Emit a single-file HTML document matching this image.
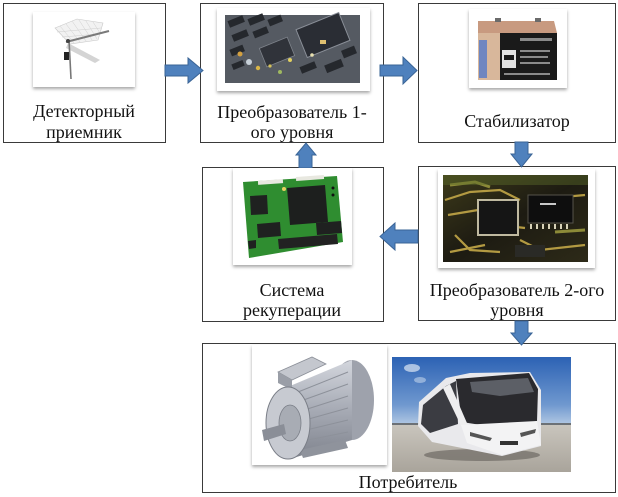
<!DOCTYPE html>
<html><head><meta charset="utf-8">
<style>
html,body{margin:0;padding:0;background:#fff;}
svg{display:block;}
text{font-family:"Liberation Serif","Noto Serif CJK SC",serif;font-size:18px;fill:#111;}
</style></head>
<body>
<svg width="618" height="497" viewBox="0 0 618 497" xmlns="http://www.w3.org/2000/svg">
<defs>
<filter id="sh" x="-10%" y="-10%" width="120%" height="130%"><feDropShadow dx="0" dy="2" stdDeviation="1.6" flood-color="#000" flood-opacity="0.35"/></filter>
<linearGradient id="sky" x1="0" y1="0" x2="0" y2="1"><stop offset="0" stop-color="#2c62b4"/><stop offset="0.7" stop-color="#6f98cf"/><stop offset="1" stop-color="#b3c9e3"/></linearGradient>
<linearGradient id="gnd" x1="0" y1="0" x2="0" y2="1"><stop offset="0" stop-color="#c9c5bd"/><stop offset="1" stop-color="#a9a49b"/></linearGradient>
<linearGradient id="mot" x1="0" y1="0" x2="0" y2="1"><stop offset="0" stop-color="#d3d6dd"/><stop offset="0.5" stop-color="#a7abb5"/><stop offset="1" stop-color="#7f838d"/></linearGradient>
<linearGradient id="pcb2" x1="0" y1="0" x2="1" y2="1"><stop offset="0" stop-color="#3d3a1a"/><stop offset="0.5" stop-color="#1d1b12"/><stop offset="1" stop-color="#2d2a18"/></linearGradient>
</defs>

<!-- boxes -->
<rect x="3.5" y="3.5" width="162" height="139" fill="#fff" stroke="#3a3a3a"/>
<rect x="200.5" y="3.5" width="183" height="139" fill="#fff" stroke="#3a3a3a"/>
<rect x="418.5" y="3.5" width="197" height="139" fill="#fff" stroke="#3a3a3a"/>
<rect x="202.5" y="167.5" width="181" height="154" fill="#fff" stroke="#3a3a3a"/>
<rect x="418.5" y="166.5" width="197" height="154" fill="#fff" stroke="#3a3a3a"/>
<rect x="202.5" y="343.5" width="413" height="149" fill="#fff" stroke="#3a3a3a"/>

<!-- arrows -->
<g fill="#4f81bd" stroke="#3a6496" stroke-width="1">
<polygon points="165,65 188,65 188,58 203,70.5 188,83 188,76 165,76"/>
<polygon points="380,65 403,65 403,57 417,70.5 403,84 403,76 380,76"/>
<polygon points="515,142 528,142 528,154 532,154 521.5,167 511,154 515,154"/>
<polygon points="515,321 528,321 528,333 532,333 521.5,345 511,333 515,333"/>
<polygon points="418,230 395,230 395,223 380,236.5 395,250 395,243 418,243"/>
<polygon points="299,168 299,155 296,155 306,143 316,155 312,155 312,168"/>
</g>

<!-- Image 1: antenna -->
<rect x="33" y="12" width="102" height="75" fill="#fff" filter="url(#sh)"/>
<g>
<polygon points="55,28 77,19 103,23 98,40 70,44" fill="#f2f2f2" stroke="#c8c8c8" stroke-width="0.6"/>
<g stroke="#cfcfcf" stroke-width="0.5">
<line x1="60" y1="26" x2="74" y2="43"/><line x1="66" y1="24" x2="80" y2="42"/><line x1="72" y1="21" x2="86" y2="41"/>
<line x1="79" y1="20" x2="92" y2="40"/><line x1="86" y1="21" x2="97" y2="39"/><line x1="93" y1="22" x2="100" y2="33"/>
<line x1="57" y1="32" x2="101" y2="28"/><line x1="62" y1="37" x2="99" y2="34"/>
</g>
<polygon points="68,43 100,60 95,63 66,48" fill="#d4d4d4"/>
<line x1="66" y1="42" x2="109" y2="31" stroke="#7a7a7a" stroke-width="2"/>
<line x1="69" y1="40" x2="71" y2="79" stroke="#777" stroke-width="1.6"/>
<rect x="64" y="52" width="5" height="8" fill="#222"/>
<circle cx="68" cy="41" r="2" fill="#444"/>
</g>

<!-- Image 2: circuit board -->
<rect x="217" y="8" width="153" height="83" fill="#fff" filter="url(#sh)"/>
<rect x="225" y="15" width="135" height="68" fill="#4f545c"/>
<g>
<rect x="225" y="15" width="135" height="68" fill="#5b6068" opacity="0.5"/>
<g fill="#25282d">
<rect x="228" y="18" width="16" height="7" transform="rotate(-22 236 21)"/>
<rect x="248" y="16" width="16" height="7" transform="rotate(-22 256 19)"/>
<rect x="268" y="17" width="14" height="7" transform="rotate(-22 275 20)"/>
<rect x="232" y="32" width="16" height="7" transform="rotate(-22 240 35)"/>
<rect x="253" y="29" width="15" height="7" transform="rotate(-22 260 32)"/>
<rect x="230" y="47" width="14" height="7" transform="rotate(-22 237 50)"/>
<rect x="232" y="62" width="12" height="6" transform="rotate(-22 238 65)"/>
<rect x="300" y="64" width="16" height="7" transform="rotate(-22 308 67)"/>
<rect x="325" y="62" width="18" height="8" transform="rotate(-22 334 66)"/>
<rect x="342" y="48" width="14" height="8" transform="rotate(-22 349 52)"/>
</g>
<rect x="300" y="20" width="46" height="30" fill="#2a2d34" stroke="#8a8f98" stroke-width="1" transform="rotate(-22 323 35)"/>
<rect x="262" y="42" width="30" height="20" fill="#30333a" stroke="#7e838b" stroke-width="0.8" transform="rotate(-22 277 52)"/>
<circle cx="249" cy="62" r="3" fill="#c7d0d8"/>
<circle cx="258" cy="68" r="2.2" fill="#d8b548"/>
<circle cx="240" cy="54" r="2.5" fill="#d3a040"/>
<circle cx="290" cy="60" r="2" fill="#e2d060"/>
<circle cx="280" cy="72" r="2" fill="#9fb860"/>
<circle cx="312" cy="55" r="1.8" fill="#e8e0b0"/>
<circle cx="270" cy="66" r="1.6" fill="#d6c25a"/>
<rect x="320" y="40" width="6" height="4" fill="#e0c070"/>
</g>

<!-- Image 3: battery -->
<rect x="469" y="9" width="98" height="79" fill="#fff" filter="url(#sh)"/>
<g>
<polygon points="478,21 554,21 557,33 478,33" fill="#c89a80"/>
<rect x="495" y="18" width="6" height="4" fill="#6b6b6b"/>
<rect x="535" y="18" width="6" height="4" fill="#6b6b6b"/>
<rect x="478" y="33" width="22" height="47" fill="#d8b79b"/>
<rect x="479" y="40" width="8" height="38" fill="#6f86c0"/>
<rect x="500" y="33" width="57" height="47" fill="#1a1a1a"/>
<rect x="502" y="50" width="14" height="18" fill="#e2e2e2"/>
<rect x="504" y="55" width="10" height="5" fill="#1a1a1a"/>
<g fill="#8a8a8a"><rect x="520" y="38" width="32" height="3"/><rect x="520" y="50" width="30" height="2"/><rect x="520" y="56" width="28" height="2"/><rect x="520" y="62" width="30" height="2"/><rect x="504" y="73" width="46" height="2"/></g>
</g>

<!-- Image 4: green PCB -->
<rect x="233" y="168" width="119" height="97" fill="#fff" filter="url(#sh)"/>
<g>
<polygon points="243,182 337,176 343,242 249,258" fill="#2f8d30"/>
<rect x="258" y="180" width="25" height="4" fill="#e8e8e0" transform="rotate(-4 270 182)"/>
<rect x="296" y="176" width="28" height="4" fill="#e8e8e0" transform="rotate(-4 310 178)"/>
<polygon points="287,188 325,185 328,222 290,225" fill="#1d1f1e"/>
<polygon points="250,196 267,195 268,214 251,215" fill="#1f2120"/>
<polygon points="257,224 280,222 281,236 258,238" fill="#1f2120"/>
<polygon points="316,223 341,221 342,233 317,235" fill="#1f2120"/>
<polygon points="278,239 337,234 338,244 279,249" fill="#222"/>
<polygon points="248,241 256,240 256,248 249,249" fill="#1f2120"/>
<circle cx="284" cy="189" r="2" fill="#e6d060"/>
<circle cx="333" cy="188" r="1.5" fill="#111"/><circle cx="333" cy="195" r="1.5" fill="#111"/>
</g>

<!-- Image 5: dark PCB -->
<rect x="438" y="169" width="157" height="99" fill="#fff" filter="url(#sh)"/>
<rect x="443" y="175" width="145" height="87" fill="url(#pcb2)"/>
<g>
<path d="M445,200 L470,192 L500,190 L520,200 M448,215 L478,210 M455,235 L470,250 L500,252 M520,240 L540,250 L585,245 M530,200 L585,195 M450,252 L485,245 M500,225 L525,228" stroke="#b39a42" stroke-width="2.2" fill="none"/>
<path d="M450,185 L475,182 L490,187 M555,232 L585,230" stroke="#8c8a38" stroke-width="3" fill="none"/>
<rect x="478" y="200" width="40" height="35" fill="#151515" stroke="#bfb9a0" stroke-width="2"/>
<rect x="528" y="195" width="45" height="28" fill="#0e0e0e" stroke="#55534a" stroke-width="1"/>
<rect x="540" y="203" width="16" height="2" fill="#c8c8c8"/>
<g fill="#d8d2b8"><rect x="530" y="224" width="2" height="5"/><rect x="536" y="224" width="2" height="5"/><rect x="542" y="224" width="2" height="5"/><rect x="548" y="224" width="2" height="5"/><rect x="554" y="224" width="2" height="5"/><rect x="560" y="224" width="2" height="5"/><rect x="566" y="224" width="2" height="5"/></g>
<rect x="443" y="175" width="145" height="10" fill="#5a6a2a" opacity="0.45"/>
<rect x="515" y="245" width="30" height="12" fill="#2a2a26"/>
</g>

<!-- Image 6: motor -->
<rect x="252" y="345" width="135" height="120" fill="#fff" filter="url(#sh)"/>
<g>
<ellipse cx="352" cy="400" rx="22" ry="40" fill="#9ea2ac"/>
<polygon points="290,386 352,360 352,440 290,459" fill="url(#mot)"/>
<g stroke="#8d919a" stroke-width="1">
<line x1="298" y1="392" x2="348" y2="372"/><line x1="298" y1="402" x2="348" y2="384"/><line x1="298" y1="412" x2="348" y2="396"/>
<line x1="298" y1="422" x2="348" y2="408"/><line x1="298" y1="432" x2="348" y2="420"/><line x1="298" y1="442" x2="348" y2="432"/>
</g>
<polygon points="278,372 312,357 326,364 292,380" fill="#c4c7ce" stroke="#8b8f98" stroke-width="0.8"/>
<polygon points="278,372 292,380 292,390 278,383" fill="#9a9ea7"/>
<polygon points="300,450 345,440 348,448 303,458" fill="#8f939c"/>
<ellipse cx="288" cy="423" rx="22" ry="36" fill="#c7cad1" stroke="#7a7e87" stroke-width="1"/>
<ellipse cx="290" cy="423" rx="11" ry="18" fill="#a8acb4" stroke="#7a7e87" stroke-width="0.8"/>
<polygon points="262,430 284,424 286,434 264,441" fill="#8a8e97"/>
</g>

<!-- Image 7: bus -->
<rect x="392" y="357" width="179" height="68" fill="url(#sky)"/>
<rect x="392" y="425" width="179" height="47" fill="url(#gnd)"/>
<rect x="392" y="423" width="179" height="2" fill="#6c7176"/>
<ellipse cx="412" cy="368" rx="8" ry="4" fill="#c9d8ec" opacity="0.8"/>
<ellipse cx="420" cy="380" rx="6" ry="3" fill="#c0d2ea" opacity="0.6"/>
<g>
<ellipse cx="482" cy="455" rx="58" ry="6" fill="#6d6a64" opacity="0.7"/>
<polygon points="419,402 446,378 470,373 530,372 541,390 541,446 502,456 432,442 418,426" fill="#e9e9ec"/>
<polygon points="456,379 529,373 538,389 537,421 500,428 462,422" fill="#2a2a2e"/>
<polygon points="470,382 528,378 534,392 500,396 472,392" fill="#5c5f66"/>
<polygon points="423,405 446,386 456,381 458,424 430,433 421,424" fill="#3b3c42"/>
<polygon points="443,388 450,384 470,430 464,432" fill="#eeeeef"/>
<polygon points="461,425 537,421 541,445 502,455 467,443" fill="#f3f3f4"/>
<rect x="500" y="441" width="18" height="4" fill="#333"/>
<polygon points="470,432 492,438 490,441 470,436" fill="#555"/>
<polygon points="520,433 536,429 535,433 521,437" fill="#555"/>
</g>

<!-- labels -->
<g text-anchor="middle">
<text x="84" y="117">Детекторный</text>
<text x="84" y="138">приемник</text>
<text x="292" y="118">Преобразователь 1-</text>
<text x="292" y="138">ого уровня</text>
<text x="517" y="127">Стабилизатор</text>
<text x="292" y="296">Система</text>
<text x="292" y="316">рекуперации</text>
<text x="517" y="296">Преобразователь 2-ого</text>
<text x="517" y="316">уровня</text>
<text x="408" y="488">Потребитель</text>
</g>
</svg>
</body></html>
